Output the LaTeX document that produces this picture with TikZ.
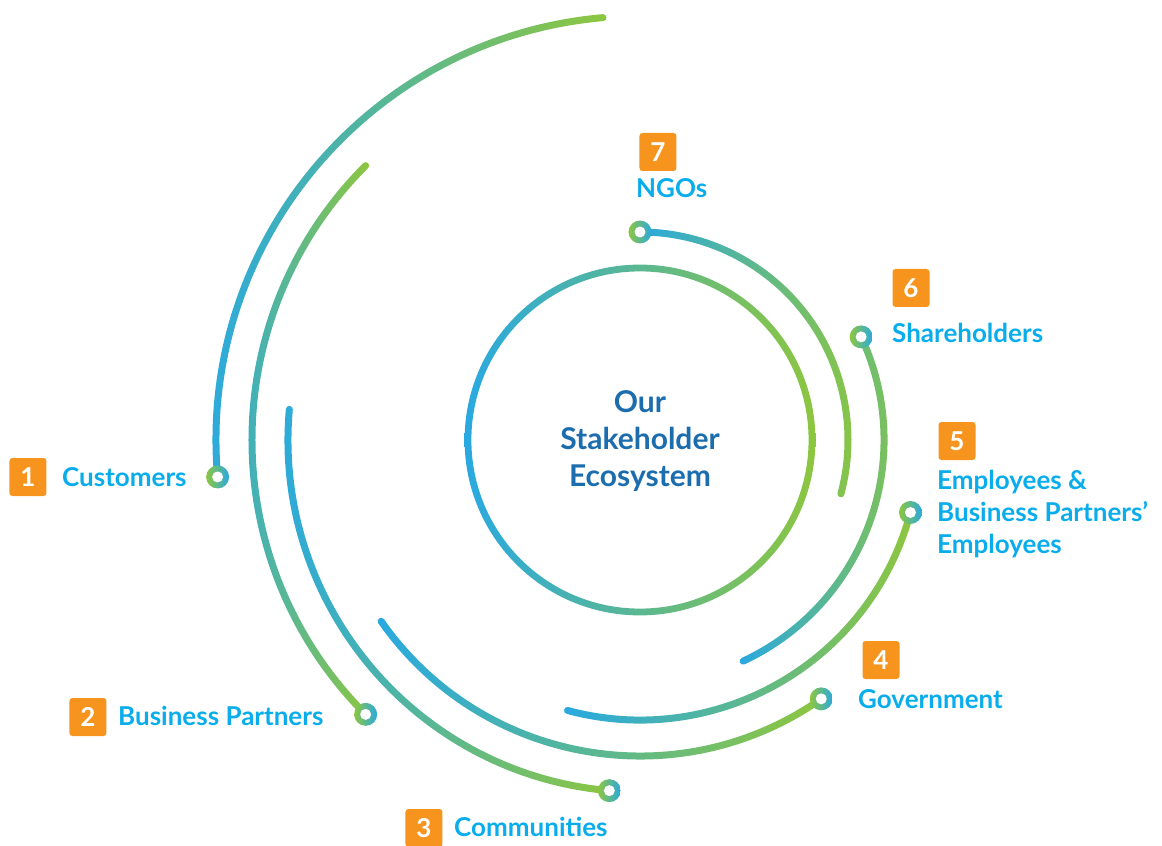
\documentclass[tikz,border=0pt]{standalone}
\usepackage{fontspec}
\setmainfont{Lato}
\usepackage{tikz}

\definecolor{ecoblue}{HTML}{29A9E1}
\definecolor{ecogreen}{HTML}{8DC63F}
\definecolor{ecocyan}{HTML}{0AADEB}
\definecolor{econavy}{HTML}{1C6DAE}
\definecolor{ecoorange}{HTML}{F7941D}

\tikzset{
  badge/.style={fill=ecoorange, text=white, rounded corners=3pt, minimum width=37pt, minimum height=38pt, inner sep=0pt, font=\bfseries\fontsize{26}{26}\selectfont},
  lbl/.style={text=ecocyan, anchor=west, inner sep=0pt, align=left, font=\bfseries\fontsize{26}{32}\selectfont},
  ring/.style={left color=ecogreen, right color=ecoblue},
}

\begin{document}
\begin{tikzpicture}[x=1pt, y=1pt]
    \useasboundingbox (-640,-406) rectangle (522,440);

    % core circle
    \shade[left color=ecoblue, middle color=ecoblue!85!ecogreen, right color=ecogreen, even odd rule]
        (0,0) circle (175.4pt) (0,0) circle (168.6pt);
    \node[text=econavy, align=center, font=\bfseries\fontsize{30}{37}\selectfont] (core) at (0,-1) {Our\\Stakeholder\\Ecosystem};

    % one arc per stakeholder group, ring at its end
    \foreach \r/\a/\b/\n in {424/95/185/1, 388/135/225/2, 352/175/265/3, 316/215/305/4, 280/255/345/5, 244/295/385/6, 208/-15/90/7}{
        \pgfmathsetmacro\ro{\r+3.5}
        \pgfmathsetmacro\ri{\r-3.5}
        \shade[left color=ecoblue, middle color=ecoblue!60!ecogreen, right color=ecogreen]
            (\a:\ro pt) arc[start angle=\a, end angle=\b, radius=\ro pt]
            arc[start angle=\b, end angle=\b+180, radius=3.5pt]
            arc[start angle=\b, end angle=\a, radius=\ri pt]
            arc[start angle=\a+180, end angle=\a+360, radius=3.5pt] -- cycle;
        \coordinate (m\n) at (\b:\r pt);
        \shade[ring] (m\n) circle (11.5pt);
        \fill[white] (m\n) circle (5.5pt);
    }

    \node[badge] (b1) at (-612,-37) {1};
    \node[lbl] (l1) at (-578,-37) {Customers};
    \node[badge] (b2) at (-552,-277) {2};
    \node[lbl] (l2) at (-522,-276) {Business Partners};
    \node[badge] (b3) at (-216,-388) {3};
    \node[lbl] (l3) at (-186,-387) {Communities};
    \node[badge] (b4) at (241,-220) {4};
    \node[lbl] (l4) at (218,-259) {Government};
    \node[badge] (b5) at (317,-1) {5};
    \node[lbl] (l5) at (297,-74) {Employees \&\\Business Partners’\\Employees};
    \node[badge] (b6) at (271,152) {6};
    \node[lbl] (l6) at (252,107) {Shareholders};
    \node[badge] (b7) at (18,288) {7};
    \node[lbl] (l7) at (-4,252) {NGOs};
\end{tikzpicture}
\end{document}
